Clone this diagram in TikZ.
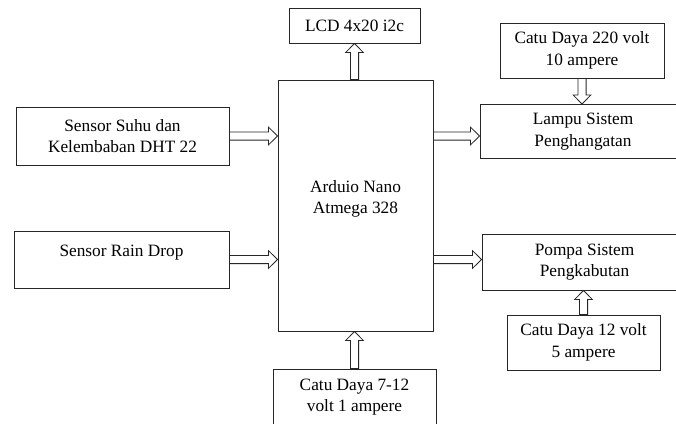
\documentclass[tikz,border=0pt]{standalone}
\usepackage{fontspec}
\setmainfont{Liberation Serif}
\newfontfamily\blockfont{Liberation Serif}
\usepackage{tikz}
\usetikzlibrary{calc}

\tikzset{
	block/.style={draw=black!85, line width=0.9pt, align=center, inner sep=2pt,
		font=\blockfont\fontsize{17.3}{21.5}\selectfont},
	hollow/.style={draw=black!85, line width=0.8pt, line join=miter,
		to path={
			($(\tikztostart)!4.1pt!90:(\tikztotarget)$)
			-- ($($(\tikztotarget)!9pt!(\tikztostart)$)!4.1pt!90:(\tikztotarget)$)
			-- ($($(\tikztotarget)!9pt!(\tikztostart)$)!8.8pt!90:(\tikztotarget)$)
			-- (\tikztotarget)
			-- ($($(\tikztotarget)!9pt!(\tikztostart)$)!8.8pt!-90:(\tikztotarget)$)
			-- ($($(\tikztotarget)!9pt!(\tikztostart)$)!4.1pt!-90:(\tikztotarget)$)
			-- ($(\tikztostart)!4.1pt!-90:(\tikztotarget)$) -- cycle}}
}

\begin{document}
\begin{tikzpicture}[x=1pt, y=-1pt]
		\useasboundingbox (0,0) rectangle (676,423);
		\clip (0,0) rectangle (676,423);
		%
		\node[block, minimum width=131pt, minimum height=35pt] (lcd) at (354.5,25.5) {LCD 4x20 i2c};
		\node[block, minimum width=155pt, minimum height=251pt, text depth=16.8pt] (arduino) at (355.5,205.5) {Arduio Nano\\Atmega 328};
		\node[block, minimum width=213pt, minimum height=58pt] (suhu) at (122.5,136) {Sensor Suhu dan\\Kelembaban DHT 22};
		\node[block, minimum width=215pt, minimum height=57pt, text depth=17pt] (rain) at (121.5,259.5) {Sensor Rain Drop};
		\node[block, minimum width=164pt, minimum height=55pt] (catu220) at (582,50.5) {Catu Daya 220 volt\\10 ampere};
		\node[block, minimum width=206pt, minimum height=54pt] (lampu) at (583,131.5) {Lampu Sistem\\Penghangatan};
		\node[block, minimum width=205pt, minimum height=56pt] (pompa) at (584.5,262) {Pompa Sistem\\Pengkabutan};
		\node[block, minimum width=153pt, minimum height=55pt] (catu12) at (583.5,342.5) {Catu Daya 12 volt\\5 ampere};
		\node[block, minimum width=163pt, minimum height=56pt] (catu712) at (354.5,397) {Catu Daya 7-12\\volt 1 ampere};
		%
		\path[hollow]
		% horizontal arrows
		(suhu.east) edge (suhu.east -| arduino.west)
		(rain.east) edge (rain.east -| arduino.west)
		(arduino.east |- suhu.east) edge (lampu.west |- suhu.east)
		(arduino.east |- rain.east) edge (pompa.west |- rain.east)
		% vertical arrows
		(lcd.south |- arduino.north) edge (lcd.south)
		(catu712.north) edge (catu712.north |- arduino.south)
		(catu220.south) edge (catu220.south |- lampu.north)
		(catu12.north) edge (catu12.north |- pompa.south);
	\end{tikzpicture}
\end{document}
